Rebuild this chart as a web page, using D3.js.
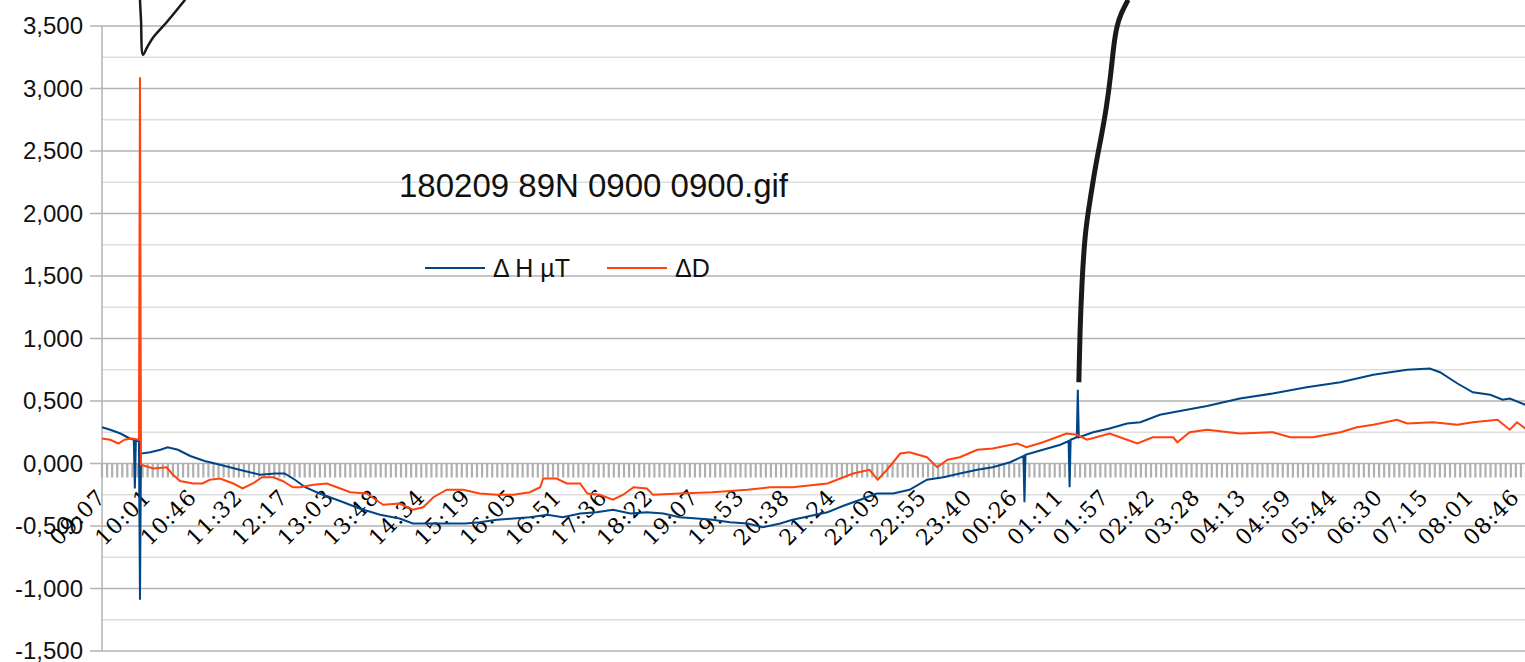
<!DOCTYPE html>
<html lang="en">
<head>
<meta charset="UTF-8">
<title>180209 89N 0900 0900.gif</title>
<script src="https://d3js.org/d3.v7.min.js"></script>
<style>
  body { margin: 0; background: #fff; overflow: hidden; }
  .ylab { font-family: 'Liberation Sans', Arial, sans-serif; font-size: 24px; fill: #111; }
  .xlab { font-family: 'DejaVu Serif', 'Liberation Serif', serif; font-size: 22px; letter-spacing: 1px; fill: #000; }
  .title { font-family: 'Liberation Sans', Arial, sans-serif; font-size: 33px; fill: #111; }
  .legend { font-family: 'Liberation Sans', Arial, sans-serif; font-size: 25px; fill: #111; }
</style>
</head>
<body>
<svg width="1525" height="662"></svg>
<script>
const width = 1525, height = 662;

// x is the sample number; the axis puts a label every labelStep samples
const timeLabels = ["09:07","10:01","10:46","11:32","12:17","13:03","13:48","14:34","15:19","16:05",
  "16:51","17:36","18:22","19:07","19:53","20:38","21:24","22:09","22:55","23:40",
  "00:26","01:11","01:57","02:42","03:28","04:13","04:59","05:44","06:30","07:15","08:01","08:46"];
const labelStep = 44.45;

const yTicks = [-1.5, -1.0, -0.5, 0, 0.5, 1.0, 1.5, 2.0, 2.5, 3.0, 3.5];

// Δ H µT
const hSamples = [0,8,18,27,31,32,33,36,37,38,47,57,64,74,86,100,115,134,154,169,178,188,198,212,232,251,271,290,303,320,336,354,368,385,401,417,434,449,466,482,498,515,531,547,563,580,595,612,629,644,661,673,690,707,722,739,755,771,787,804,820,836,853,868,885,898,899,900,917,934,942,943,944,950,951,952,966,982,999,1012,1031,1044,1077,1109,1141,1174,1207,1239,1272,1294,1304,1321,1336,1353,1365,1372,1387,1400];
const hValues = [0.29,0.27,0.24,0.20,0.19,-0.20,0.18,0.18,-1.09,0.08,0.09,0.11,0.13,0.11,0.06,0.02,-0.01,-0.05,-0.09,-0.08,-0.08,-0.13,-0.19,-0.24,-0.30,-0.36,-0.41,-0.44,-0.48,-0.48,-0.48,-0.48,-0.47,-0.45,-0.44,-0.43,-0.41,-0.43,-0.40,-0.39,-0.37,-0.40,-0.39,-0.40,-0.43,-0.44,-0.45,-0.47,-0.48,-0.51,-0.48,-0.45,-0.42,-0.39,-0.34,-0.29,-0.24,-0.24,-0.21,-0.13,-0.11,-0.08,-0.05,-0.03,0.01,0.06,-0.31,0.07,0.11,0.15,0.18,-0.19,0.19,0.21,0.59,0.21,0.25,0.28,0.32,0.33,0.39,0.41,0.46,0.52,0.56,0.61,0.65,0.71,0.75,0.76,0.73,0.64,0.57,0.55,0.51,0.52,0.47,0.45];

// ΔD
const dSamples = [0,8,16,22,29,36,37,38,50,63,68,76,89,98,105,115,128,137,147,156,167,176,186,193,206,219,229,242,258,274,290,303,313,323,336,352,368,385,401,417,427,430,443,453,466,473,485,498,508,518,531,537,563,595,629,651,673,707,732,748,756,765,778,787,804,814,824,836,853,868,892,901,917,940,950,960,982,999,1009,1024,1044,1048,1060,1077,1109,1141,1158,1180,1207,1223,1239,1262,1272,1297,1321,1336,1360,1372,1379,1387,1400];
const dValues = [0.20,0.19,0.16,0.19,0.20,0.19,3.09,-0.01,-0.04,-0.03,-0.08,-0.14,-0.16,-0.16,-0.13,-0.12,-0.16,-0.20,-0.16,-0.11,-0.11,-0.14,-0.19,-0.19,-0.17,-0.16,-0.19,-0.23,-0.24,-0.33,-0.32,-0.37,-0.35,-0.27,-0.21,-0.21,-0.24,-0.25,-0.25,-0.23,-0.19,-0.12,-0.12,-0.16,-0.16,-0.24,-0.25,-0.29,-0.25,-0.19,-0.20,-0.25,-0.24,-0.23,-0.21,-0.19,-0.19,-0.16,-0.08,-0.05,-0.13,-0.05,0.08,0.09,0.05,-0.03,0.03,0.05,0.11,0.12,0.16,0.13,0.17,0.24,0.23,0.19,0.24,0.19,0.16,0.21,0.21,0.17,0.25,0.27,0.24,0.25,0.21,0.21,0.25,0.29,0.31,0.35,0.32,0.33,0.31,0.33,0.35,0.27,0.33,0.28,0.30];

// hand-drawn marks on the picture, in chart units
const markA = [[37,3.71],[38,3.55],[40,3.27],[44,3.33],[50,3.41],[63,3.53],[81,3.71]];
const markB = [[952,0.65],[953,1.04],[955,1.45],[958,1.85],[963,2.11],[968,2.37],[974,2.62],[979,2.85],[983,3.1],[986,3.35],[989,3.5],[993,3.6],[1000,3.71]];

const plotLeft = 102, plotTop = 26, plotBottom = 651;
const x = d3.scaleLinear().domain([0, 1400]).range([plotLeft, plotLeft + 1400 * 47.2 / 46]);
const y = d3.scaleLinear().domain([-1.5, 3.5]).range([plotBottom, plotTop]);
const plotRight = x(1400);

const svg = d3.select("svg");
const fmt = v => d3.format(".3f")(v).replace(".", ",").replace("−", "-");

// minor gridlines
svg.append("g").selectAll("line")
  .data(d3.range(-1.25, 3.5, 0.5))
  .join("line")
  .attr("x1", plotLeft).attr("x2", plotRight)
  .attr("y1", d => y(d)).attr("y2", d => y(d))
  .attr("stroke", "#dddddd").attr("stroke-width", 1.5);

// major gridlines + y ticks
svg.append("g").selectAll("line")
  .data(yTicks)
  .join("line")
  .attr("x1", plotLeft - 12).attr("x2", plotRight)
  .attr("y1", d => y(d)).attr("y2", d => y(d))
  .attr("stroke", "#b3b3b3").attr("stroke-width", 1.5);

svg.append("line")
  .attr("x1", plotLeft).attr("x2", plotLeft)
  .attr("y1", plotTop).attr("y2", plotBottom)
  .attr("stroke", "#b3b3b3").attr("stroke-width", 1.5);

svg.append("g").selectAll("text")
  .data(yTicks)
  .join("text")
  .attr("class", "ylab")
  .attr("x", 83).attr("y", d => y(d))
  .attr("dy", "0.35em")
  .attr("text-anchor", "end")
  .text(fmt);

// category ticks along the zero line
svg.append("g").selectAll("line")
  .data(d3.range(0, 1400, labelStep / 9))
  .join("line")
  .attr("x1", d => x(d)).attr("x2", d => x(d))
  .attr("y1", y(0)).attr("y2", y(0) + 14)
  .attr("stroke", "#b0b0b0").attr("stroke-width", 2.2);

svg.append("g").selectAll("text")
  .data(timeLabels)
  .join("text")
  .attr("class", "xlab")
  .attr("text-anchor", "end")
  .attr("transform", (d, i) => `translate(${x(i * labelStep) + 5},${y(0) + 35}) rotate(-45)`)
  .text(d => d);

// series
const line = d3.line().x(d => x(d[0])).y(d => y(d[1]));
svg.append("path")
  .datum(d3.zip(hSamples, hValues))
  .attr("d", line)
  .attr("fill", "none").attr("stroke", "#004586").attr("stroke-width", 2);
svg.append("path")
  .datum(d3.zip(dSamples, dValues))
  .attr("d", line)
  .attr("fill", "none").attr("stroke", "#ff420e").attr("stroke-width", 2);

// title and legend
svg.append("text").attr("class", "title")
  .attr("x", 399).attr("y", 197)
  .text("180209 89N 0900 0900.gif");

const legendItems = [
  { name: "Δ H µT", color: "#004586", x0: 425 },
  { name: "ΔD", color: "#ff420e", x0: 607 }
];
const lg = svg.append("g").selectAll("g").data(legendItems).join("g");
lg.append("line")
  .attr("x1", d => d.x0).attr("x2", d => d.x0 + 60)
  .attr("y1", 268).attr("y2", 268)
  .attr("stroke", d => d.color).attr("stroke-width", 2);
lg.append("text").attr("class", "legend")
  .attr("x", d => d.x0 + 68).attr("y", 277)
  .text(d => d.name);

// hand-drawn strokes
const pen = d3.line().x(d => x(d[0])).y(d => y(d[1])).curve(d3.curveBasis);
svg.append("path").attr("d", d3.line().x(d => x(d[0])).y(d => y(d[1])).curve(d3.curveCatmullRom)(markA))
  .attr("fill", "none").attr("stroke", "#1a1a1a").attr("stroke-width", 2.5)
  .attr("stroke-linejoin", "round");
svg.append("path").attr("d", pen(markB))
  .attr("fill", "none").attr("stroke", "#1a1a1a").attr("stroke-width", 5)
  .attr("stroke-linecap", "butt");
</script>
</body>
</html>
